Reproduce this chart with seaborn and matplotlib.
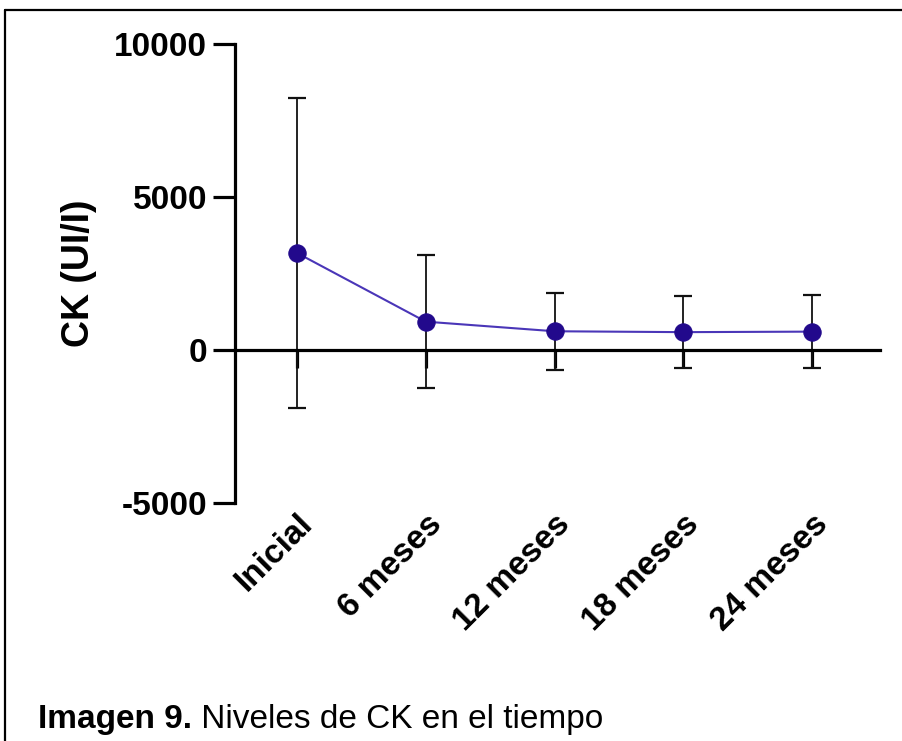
import matplotlib
matplotlib.use("Agg")
import matplotlib.pyplot as plt
import seaborn as sns
import pandas as pd
from matplotlib.lines import Line2D

# ---- data ----
categories = ["Inicial", "6 meses", "12 meses", "18 meses", "24 meses"]
ck_mean = [3174, 926, 612, 583, 600]
ck_sd = [5062, 2173, 1265, 1184, 1200]
y_ticks = [-5000, 0, 5000, 10000]
y_label = "CK (UI/I)"
caption_bold = "Imagen 9."
caption_rest = " Niveles de CK en el tiempo"

sns.set_theme(style="white")
plt.rcParams["font.family"] = ["Liberation Sans", "DejaVu Sans"]
plt.rcParams["text.color"] = "black"
plt.rcParams["axes.labelcolor"] = "black"
plt.rcParams["xtick.color"] = "black"
plt.rcParams["ytick.color"] = "black"

W, H = 903, 741
fig = plt.figure(figsize=(W / 100, H / 100), dpi=100)
ax = fig.add_axes([235 / W, 1 - 502.8 / H, 645 / W, (502.8 - 44.3) / H])

df = pd.DataFrame({"cat": categories, "mean": ck_mean, "sd": ck_sd})
xpos = list(range(len(categories)))

# error bars (SD)
ax.errorbar(xpos, df["mean"], yerr=df["sd"], fmt="none", ecolor="#111111",
            elinewidth=1.3, capsize=6.5, capthick=1.6, zorder=2)

# mean line + markers via seaborn
sns.lineplot(x=xpos, y=df["mean"], ax=ax, color="#4a36b8", linewidth=1.5,
             marker="o", markersize=12.5, markerfacecolor="#22098c",
             markeredgecolor="#22098c", zorder=4)

for s in ["top", "right"]:
    ax.spines[s].set_visible(False)
ax.spines["bottom"].set_position(("data", 0))
for s in ["left", "bottom"]:
    ax.spines[s].set_linewidth(2.3)
    ax.spines[s].set_color("black")
ax.spines["bottom"].set_zorder(3)

ax.set_xlim(-0.481, 4.526)
ax.set_ylim(-5000, 10000)
ax.set_yticks(y_ticks)
ax.set_yticklabels([str(v) for v in y_ticks], fontsize=24, fontweight="bold",
                   color="black")
ax.set_xticks(xpos)
ax.set_xticklabels(categories, fontsize=24, fontweight="bold", rotation=45,
                   ha="right", va="top", rotation_mode="anchor", color="black")

ax.tick_params(axis="y", direction="out", length=16, width=2.3, color="black",
               pad=4, left=True)
ax.tick_params(axis="x", direction="out", length=13, width=2.3, color="black",
               pad=101, bottom=True)

ax.set_xlabel("")
ax.set_ylabel(y_label, fontsize=27, fontweight="bold", color="black")
ax.yaxis.set_label_coords((97 - 235) / 645, 0.5)
ax.grid(False)
ax.set_facecolor("white")

# figure frame (left and top edges)
fig.add_artist(Line2D([5 / W, 5 / W], [0, 1 - 10 / H], transform=fig.transFigure,
                      color="black", linewidth=1.6))
fig.add_artist(Line2D([5 / W, 1], [1 - 10 / H, 1 - 10 / H], transform=fig.transFigure,
                      color="black", linewidth=1.6))

# caption
t = fig.text(38 / W, 1 - 728 / H, caption_bold, fontsize=24, fontweight="bold",
             ha="left", va="baseline", color="black")
fig.canvas.draw()
bb = t.get_window_extent()
fig.text(bb.x1 / W, 1 - 728 / H, caption_rest, fontsize=24, ha="left",
         va="baseline", color="black")

fig.savefig("out.png", dpi=100, facecolor="white")
